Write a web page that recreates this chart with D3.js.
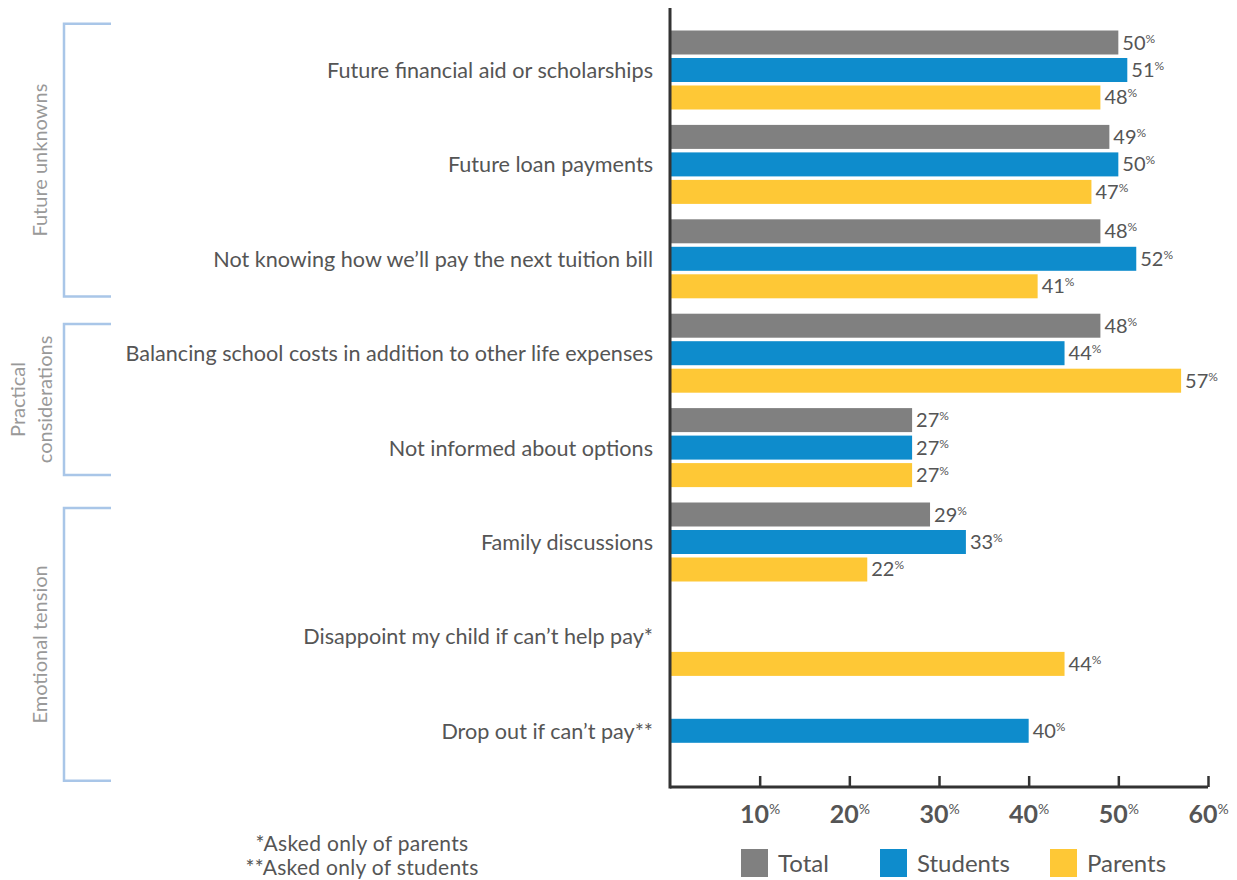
<!DOCTYPE html>
<html>
<head>
<meta charset="utf-8">
<script src="https://cdn.jsdelivr.net/npm/d3@7/dist/d3.min.js"></script>
<style>
  html, body { margin: 0; padding: 0; background: #fff; }
  svg { display: block; font-family: Lato, "Noto Sans", sans-serif; }
</style>
</head>
<body>
<svg id="chart" width="1237" height="880"></svg>
<script>
// Concerns about paying for college, % of respondents
const categories = [
  "Future financial aid or scholarships",
  "Future loan payments",
  "Not knowing how we\u2019ll pay the next tuition bill",
  "Balancing school costs in addition to other life expenses",
  "Not informed about options",
  "Family discussions",
  "Disappoint my child if can\u2019t help pay*",
  "Drop out if can\u2019t pay**"
];
const seriesNames = ["Total", "Students", "Parents"];
const totalValues    = [50, 49, 48, 48, 27, 29, null, null];
const studentsValues = [51, 50, 52, 44, 27, 33, null, 40];
const parentsValues  = [48, 47, 41, 57, 27, 22, 44, null];
const seriesColors = ["#808080", "#0e8ccc", "#fec836"];
const xTicks = [10, 20, 30, 40, 50, 60];

// Category groups shown with brackets on the left (spans in category index units)
const groupLabels = [["Future unknowns"], ["Practical", "considerations"], ["Emotional tension"]];
const groupFrom = [0.01, 3.19, 5.14];
const groupTo   = [2.90, 4.79, 8.03];

const footnotes = ["*Asked only of parents", "**Asked only of students"];

const seriesValues = [totalValues, studentsValues, parentsValues];

const svg = d3.select("#chart");

const x = d3.scaleLinear().domain([0, 60]).range([670, 1208]);
const y = d3.scaleBand().domain(categories).range([22.8, 22.8 + 8 * 94.4]).padding(0);
const sub = d3.scaleBand().domain(seriesNames).range([-39.5, 39.5]).paddingInner(0.127);
const idx = d3.scaleLinear().domain([0, categories.length]).range(y.range());

// bars
const barData = [];
categories.forEach((c, i) => {
  seriesNames.forEach((s, j) => {
    const v = seriesValues[j][i];
    if (v != null) barData.push({ c, s, v, color: seriesColors[j] });
  });
});

const barY = d => y(d.c) + y.bandwidth() / 2 + sub(d.s);

svg.append("g").selectAll("rect").data(barData).join("rect")
  .attr("x", x(0))
  .attr("y", barY)
  .attr("width", d => x(d.v) - x(0))
  .attr("height", sub.bandwidth())
  .attr("fill", d => d.color);

// value labels
const vl = svg.append("g").selectAll("text").data(barData).join("text")
  .attr("x", d => x(d.v) + 4)
  .attr("y", d => barY(d) + sub.bandwidth() / 2 + 7)
  .attr("fill", "#555")
  .attr("font-size", 20);
vl.append("tspan").text(d => d.v);
vl.append("tspan").text("%").attr("font-size", 12).attr("dy", -7);

// category labels
svg.append("g").selectAll("text").data(categories).join("text")
  .attr("x", 653)
  .attr("y", d => y(d) + y.bandwidth() / 2 + 8)
  .attr("text-anchor", "end")
  .attr("fill", "#555")
  .attr("font-size", 21.6)
  .text(d => d);

// x axis
const axisY = 787;
const xAxis = d3.axisBottom(x).tickValues(xTicks).tickSizeInner(-11).tickSizeOuter(0);
const ax = svg.append("g").attr("transform", `translate(0,${axisY})`).call(xAxis);
ax.select(".domain").attr("stroke", "#333").attr("stroke-width", 3)
  .attr("d", `M${x(0)},0H${x(60)}`);
ax.selectAll(".tick line").attr("stroke", "#333").attr("stroke-width", 2.5);
ax.selectAll(".tick text").each(function(d) {
  const t = d3.select(this);
  t.text(null)
    .attr("font-family", "Lato, sans-serif")
    .attr("font-size", 25)
    .attr("font-weight", 700)
    .attr("fill", "#555")
    .attr("y", 36)
    .attr("dy", 0);
  t.append("tspan").text(d);
  t.append("tspan").text("%").attr("font-size", 14).attr("font-weight", 400).attr("dy", -9);
});

// vertical axis line
svg.append("line")
  .attr("x1", x(0)).attr("x2", x(0))
  .attr("y1", 8).attr("y2", axisY + 1.5)
  .attr("stroke", "#333").attr("stroke-width", 3);

// group brackets
const br = svg.append("g");
groupLabels.forEach((lines, i) => {
  const t = idx(groupFrom[i]), b = idx(groupTo[i]);
  br.append("path")
    .attr("d", `M111,${t}H64V${b}H111`)
    .attr("fill", "none")
    .attr("stroke", "#a9c6e8")
    .attr("stroke-width", 2.5);
  const cy = (t + b) / 2;
  const lh = 27;
  const txt = br.append("text")
    .attr("transform", `translate(${47 - (lines.length - 1) * 22},${cy}) rotate(-90)`)
    .attr("text-anchor", "middle")
    .attr("fill", "#999")
    .attr("font-size", 20);
  lines.forEach((ln, k) => {
    txt.append("tspan").attr("x", 0).attr("y", k * lh).text(ln);
  });
});

// footnotes
svg.append("g").selectAll("text").data(footnotes).join("text")
  .attr("x", 362)
  .attr("y", (d, i) => 851 + i * 24)
  .attr("text-anchor", "middle")
  .attr("fill", "#555")
  .attr("font-size", 21)
  .attr("letter-spacing", 0.3)
  .text(d => d);

// legend
const legX = [741, 880, 1050];
const lg = svg.append("g").selectAll("g").data(seriesNames).join("g")
  .attr("transform", (d, i) => `translate(${legX[i]},849)`);
lg.append("rect").attr("width", 27).attr("height", 28).attr("fill", (d, i) => seriesColors[i]);
lg.append("text").attr("x", 37).attr("y", 23).attr("fill", "#555").attr("font-size", 24).text(d => d);
</script>
</body>
</html>
